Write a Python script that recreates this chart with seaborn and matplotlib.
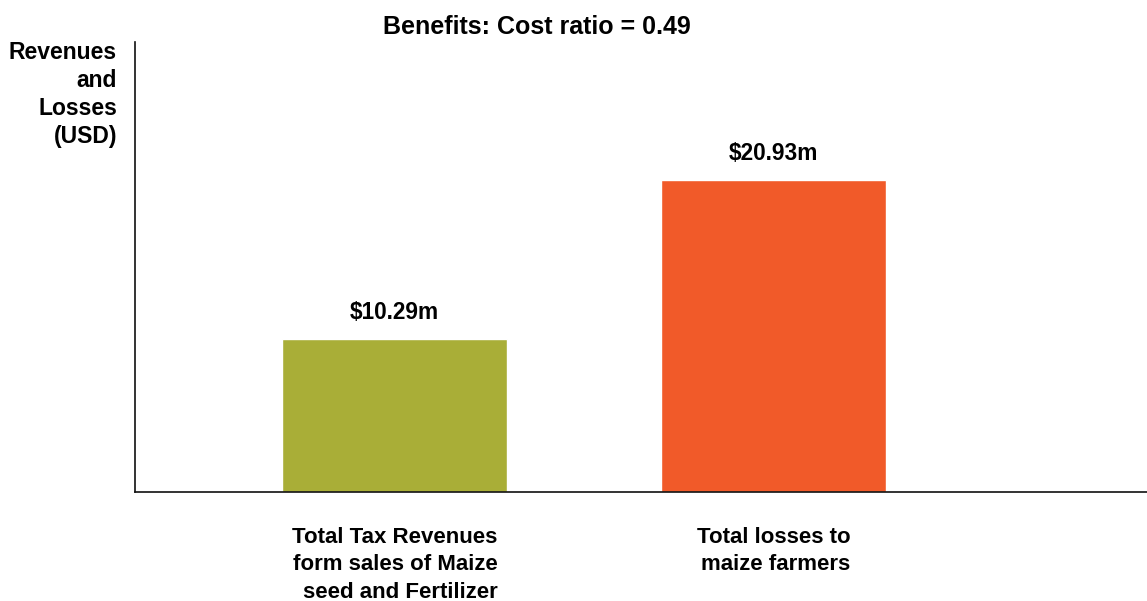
import matplotlib
matplotlib.use("Agg")
import matplotlib.pyplot as plt
import seaborn as sns
import pandas as pd

categories = ["Total Tax Revenues\nform sales of Maize\nseed and Fertilizer",
              "Total losses to\nmaize farmers"]
values = [10.29, 20.93]
value_labels = ["$10.29m", "$20.93m"]
colors = ["#A9AE37", "#F15A29"]

sns.set_theme(style="white")
plt.rcParams['font.family'] = ['Liberation Sans', 'DejaVu Sans']
plt.rcParams['text.color'] = 'black'

df = pd.DataFrame({"cat": categories, "val": values})

fig = plt.figure(figsize=(11.47, 6.01), dpi=100)
W, H = 1147, 601
ax = fig.add_axes([135 / W, 1 - 492 / H, 1 - 135 / W, (492 - 42) / H])

sns.barplot(data=df, x="cat", y="val", hue="cat", palette=colors,
            width=0.594, legend=False, ax=ax, saturation=1)

ax.set_xlim(-0.685, 1.985)
ax.set_ylim(0, 30.2)
ax.set_xlabel("")
ax.set_ylabel("")
ax.set_yticks([])
ax.tick_params(axis="x", length=0, pad=25)
for lab in ax.get_xticklabels():
    lab.set_fontsize(16)
    lab.set_fontweight("bold")
    lab.set_multialignment("right")
    lab.set_linespacing(1.4)
    lab.set_verticalalignment("top")
    lab.set_color("black")

for i, (v, t) in enumerate(zip(values, value_labels)):
    ax.annotate(t, (i, v), xytext=(0, 19), textcoords="offset points",
                ha="center", va="center", fontsize=16.3, fontweight="bold",
                color="black")

for s in ["top", "right"]:
    ax.spines[s].set_visible(False)
for s in ["left", "bottom"]:
    ax.spines[s].set_color("#111111")
    ax.spines[s].set_linewidth(1.2)

fig.text(117 / W, 1 - 41 / H, "Revenues\nand\nLosses\n(USD)", ha="right", va="top",
         multialignment="right", fontsize=16.5, fontweight="bold", linespacing=1.27,
         color="black")
fig.text(537 / W, 1 - 27 / H, "Benefits: Cost ratio = 0.49", ha="center", va="center",
         fontsize=18, fontweight="bold", color="black")

fig.savefig("out.png", dpi=100)
